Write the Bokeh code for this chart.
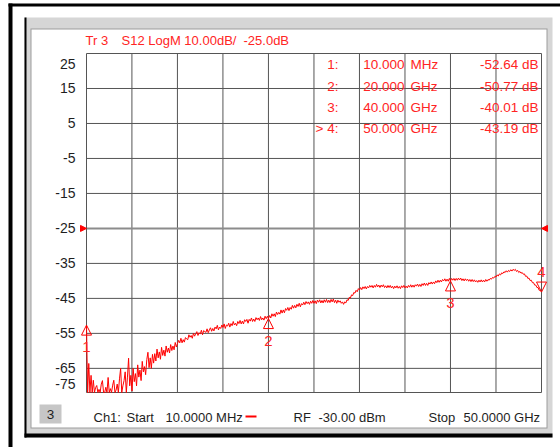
from bokeh.plotting import figure
from bokeh.models import Range1d, Label, BoxAnnotation, Arrow, NormalHead
from bokeh.embed import file_html
from bokeh.resources import INLINE
from bokeh.core.properties import value
import numpy as np

# ---- sweep settings ---------------------------------------------------------
START_GHZ = 0.01
STOP_GHZ = 50.0
REF_DB = -25.0
Y_TOP = 25.0
Y_BOTTOM = -71.9

# ---- S12 trace (dB): first point, then eight sweep points per GHz -----------
s12_db = [
    -52.64,
    -74.0, -63.6, -79.0, -67.0, -77.0, -68.4, -81.0, -70.5,   # 0-1 GHz
    -69.9, -78.0, -71.0, -80.0, -69.5, -68.5, -76.0, -72.5,   # 1-2
    -70.4, -79.0, -67.6, -75.0, -70.8, -82.0, -69.8, -68.4,   # 2-3
    -77.0, -71.2, -69.5, -80.0, -68.0, -65.0, -74.0, -70.0,   # 3-4
    -68.5, -66.0, -72.5, -67.5, -62.1, -70.0, -67.0, -71.5,   # 4-5
    -65.0, -68.8, -66.5, -70.0, -64.0, -67.5, -65.5, -68.5,   # 5-6
    -63.0, -66.0, -64.5, -66.8, -62.5, -60.4, -64.8, -62.0,   # 6-7
    -65.0, -61.0, -63.5, -60.8, -62.9, -59.5, -62.0, -60.3,   # 7-8
    -62.4, -59.0, -61.3, -59.8, -61.5, -58.6, -60.4, -59.2,   # 8-9
    -60.6, -58.2, -59.9, -58.6, -59.7, -57.6, -58.9, -57.9,   # 9-10
    -57.0, -57.7, -56.4, -57.7, -56.8, -57.5, -56.2, -56.6,   # 10-11
    -56.8, -55.4, -56.1, -55.6, -56.4, -55.0, -55.8, -55.1,   # 11-12
    -54.5, -55.6, -54.8, -55.2, -54.1, -55.4, -54.2, -54.5,   # 12-13
    -54.7, -53.7, -54.8, -54.0, -53.4, -54.4, -53.6, -54.3,   # 13-14
    -53.2, -53.7, -52.7, -54.0, -53.2, -53.6, -52.6, -53.3,   # 14-15
    -52.3, -53.6, -52.6, -52.9, -52.1, -53.2, -52.2, -52.8,   # 15-16
    -51.6, -52.6, -52.1, -52.8, -51.6, -52.2, -51.3, -52.3,   # 16-17
    -51.5, -52.3, -51.1, -51.6, -51.0, -52.1, -51.0, -51.5,   # 17-18
    -50.6, -51.6, -50.9, -51.6, -50.5, -51.1, -50.6, -51.3,   # 18-19
    -50.2, -51.1, -50.6, -51.2, -50.1, -50.8, -50.1, -50.77,  # 19-20
    -49.9, -50.6, -49.4, -50.1, -49.4, -50.2, -48.9, -49.6,   # 20-21
    -49.0, -49.5, -48.3, -49.2, -48.3, -49.1, -47.9, -48.4,   # 21-22
    -47.6, -48.5, -47.6, -48.1, -47.0, -47.8, -47.0, -47.7,   # 22-23
    -46.7, -47.3, -46.4, -47.4, -46.5, -46.9, -46.1, -46.8,   # 23-24
    -45.9, -46.5, -46.0, -46.7, -45.8, -46.4, -45.6, -46.4,   # 24-25
    -45.7, -46.5, -45.5, -46.1, -45.4, -46.3, -45.6, -46.3,   # 25-26
    -45.4, -46.1, -45.3, -46.2, -45.5, -46.2, -45.3, -46.0,   # 26-27
    -45.2, -46.2, -45.5, -46.4, -45.5, -46.1, -45.7, -46.4,   # 27-28
    -46.0, -46.7, -46.0, -46.3, -45.4, -45.6, -44.7, -44.9,   # 28-29
    -44.0, -44.2, -43.3, -43.5, -42.7, -43.1, -42.2, -42.6,   # 29-30
    -41.9, -42.5, -41.7, -42.2, -41.6, -42.3, -41.6, -42.0,   # 30-31
    -41.3, -41.8, -41.3, -42.0, -41.3, -41.8, -41.0, -41.7,   # 31-32
    -41.2, -41.9, -41.2, -41.7, -41.1, -41.9, -41.4, -42.0,   # 32-33
    -41.3, -41.9, -41.3, -42.0, -41.5, -42.2, -41.5, -42.0,   # 33-34
    -41.4, -42.1, -41.6, -42.2, -41.4, -41.9, -41.3, -42.0,   # 34-35
    -41.5, -42.0, -41.3, -41.8, -41.1, -41.8, -41.2, -41.8,   # 35-36
    -41.1, -41.5, -40.9, -41.6, -41.0, -41.6, -40.8, -41.3,   # 36-37
    -40.6, -41.3, -40.7, -41.3, -40.5, -40.9, -40.3, -40.9,   # 37-38
    -40.3, -40.8, -40.0, -40.5, -39.8, -40.4, -39.8, -40.3,   # 38-39
    -39.6, -40.0, -39.4, -40.1, -39.5, -40.1, -39.3, -40.01,  # 39-40
    -39.3, -39.8, -39.3, -39.9, -39.3, -39.8, -39.2, -39.7,   # 40-41
    -39.2, -39.9, -39.4, -40.0, -39.4, -39.9, -39.5, -40.1,   # 41-42
    -39.6, -40.2, -39.6, -40.2, -39.7, -40.3, -39.9, -40.4,   # 42-43
    -39.8, -40.3, -39.7, -40.3, -39.8, -40.3, -39.6, -40.1,   # 43-44
    -39.6, -39.8, -39.3, -39.5, -39.0, -39.2, -38.7, -38.9,   # 44-45
    -38.3, -38.6, -38.0, -38.3, -37.7, -37.9, -37.4, -37.6,   # 45-46
    -37.1, -37.5, -37.0, -37.3, -36.8, -37.2, -36.7, -37.0,   # 46-47
    -36.7, -37.3, -37.0, -37.6, -37.3, -37.8, -37.6, -38.1,   # 47-48
    -38.0, -38.7, -38.6, -39.3, -39.2, -39.9, -39.8, -40.5,   # 48-49
    -40.5, -41.2, -41.2, -41.9, -41.9, -42.7, -42.6, -43.19,  # 49-50
]

# ---- markers ----------------------------------------------------------------
marker_ids = ["1", "2", "3", "4"]
marker_ghz = [0.01, 20.0, 40.0, 50.0]
marker_db = [-52.64, -50.77, -40.01, -43.19]
marker_freq_text = ["10.000", "20.000", "40.000", "50.000"]
marker_unit_text = ["MHz", "GHz", "GHz", "GHz"]
active_marker = 3

# ---- graticule --------------------------------------------------------------
y_tick_db = [25, 15, 5, -5, -15, -25, -35, -45, -55, -65, -75]
grid_db = [15, 5, -5, -15, -25, -35, -45, -55, -65]
grid_ghz = [5, 10, 15, 20, 25, 30, 35, 40, 45]

# status-line fields: (text, left edge px, baseline row px)
title_fields = [("Tr 3", 85), ("S12 LogM 10.00dB/", 121), ("-25.0dB", 243)]
footer_fields = [("Ch1:", 93), ("Start", 126), ("10.0000 MHz", 165),
                 ("RF", 293), ("-30.00 dBm", 318), ("Stop", 428), ("50.0000 GHz", 463)]

FONT = "Liberation Sans"
FS = "13.5px"
RED = "#ff0000"
TEXT_RED = "#ff2424"
INK = "#1e1e1e"
GRID = "#555555"

# canvas size and where the graticule sits on it (pixels from top-left)
W, H = 560, 447
GRAT_LEFT, GRAT_RIGHT, GRAT_TOP, GRAT_BOTTOM = 86, 541, 53, 392

# the frame covers the whole canvas, so the ranges extend past the graticule
px_per_ghz = (GRAT_RIGHT - GRAT_LEFT) / (STOP_GHZ - START_GHZ)
px_per_db = (GRAT_BOTTOM - GRAT_TOP) / (Y_TOP - Y_BOTTOM)
x_range = Range1d(START_GHZ - GRAT_LEFT / px_per_ghz, STOP_GHZ + (W - GRAT_RIGHT) / px_per_ghz)
y_range = Range1d(Y_BOTTOM - (H - GRAT_BOTTOM) / px_per_db, Y_TOP + GRAT_TOP / px_per_db)

p = figure(width=W, height=H, output_backend="svg", toolbar_location=None,
           x_range=x_range, y_range=y_range, x_axis_location=None, y_axis_location=None,
           min_border=0)
p.background_fill_color = "white"
p.border_fill_color = "white"
p.outline_line_color = None
p.grid.visible = False


def sx(px):
    return px


def sy(py):
    return H - py


def box(l, t, r, b, color, level="image"):
    p.add_layout(BoxAnnotation(left=sx(l), right=sx(r), top=sy(t), bottom=sy(b),
                               left_units="screen", right_units="screen",
                               top_units="screen", bottom_units="screen",
                               fill_color=color, fill_alpha=1.0, line_color=None,
                               level=level))


# instrument window chrome
box(8, 3, 12, 447, "black")
box(8, 3, 560, 6, "black")
box(24, 17, 552, 437, "#d6d6d6")
box(24, 17, 26, 437, "black")
box(24, 433, 552, 437, "black")
box(30, 28, 547, 428, "#9c9c9c")
box(31, 29, 546, 427, "white")
box(39, 404, 61, 423, "#c6c6c6")
box(245, 415, 256, 417, RED, level="annotation")

# graticule
n_v = len(grid_ghz)
p.segment(x0=grid_ghz, y0=[Y_BOTTOM] * n_v, x1=grid_ghz, y1=[Y_TOP] * n_v,
          line_color=GRID, line_width=1)
n_h = len(grid_db)
p.segment(x0=[START_GHZ] * n_h, y0=grid_db, x1=[STOP_GHZ] * n_h, y1=grid_db,
          line_color=[("#8c8c8c" if d == REF_DB else GRID) for d in grid_db],
          line_width=[(2 if d == REF_DB else 1) for d in grid_db])
p.quad(left=START_GHZ, right=STOP_GHZ, bottom=Y_BOTTOM, top=Y_TOP,
       fill_color=None, line_color=GRID, line_width=1)

# y labels: the end labels are pulled inside the graticule
label_pos = [min(max(v, Y_BOTTOM + 2.5), Y_TOP - 2.9) for v in y_tick_db]
p.text(x=[START_GHZ] * len(label_pos), y=label_pos, text=[str(v) for v in y_tick_db],
       x_offset=-11, text_align="right", text_baseline="middle",
       text_font=value(FONT), text_font_size="14px", text_color=INK)


def text(px, py, s, color=INK, align="left", size=FS):
    p.add_layout(Label(x=sx(px), y=sy(py), x_units="screen", y_units="screen",
                       text=s, text_font=FONT, text_font_size=size,
                       text_color=color, text_align=align, text_baseline="middle"))


for s, x in title_fields:
    text(x, 40, s, TEXT_RED, size="13px")
for s, x in footer_fields:
    text(x, 417, s, size="13px")
text(50, 414, "3", align="center")

# marker readout table
row_y = [64, 86, 107, 128]
for i, ry in enumerate(row_y):
    prefix = "> " if i == active_marker else ""
    text(338, ry, f"{prefix}{marker_ids[i]}:", TEXT_RED, align="right")
    text(404, ry, marker_freq_text[i], TEXT_RED, align="right")
    text(410, ry, marker_unit_text[i], TEXT_RED)
    text(538, ry, f"{marker_db[i]:.2f} dB", TEXT_RED, align="right")

# trace, limited to the display window like the instrument does
freq_ghz = np.linspace(START_GHZ, STOP_GHZ, len(s12_db))
shown_db = np.clip(np.array(s12_db), Y_BOTTOM, Y_TOP)
p.line(freq_ghz, shown_db, line_color=RED, line_width=1)

# marker symbols: open triangles whose tip sits on the marker value
for i, (f, d) in enumerate(zip(marker_ghz, marker_db)):
    up = i != active_marker
    p.add_layout(Arrow(x_start=f, y_start=d - 1.0 if up else d + 1.0, x_end=f, y_end=d,
                       line_alpha=0.0,
                       end=NormalHead(size=10, fill_color=None, line_color=RED,
                                      line_width=1)))
p.text(marker_ghz, marker_db, text=marker_ids, y_offset=[22, 22, 22, -20],
       text_align="center", text_baseline="middle", text_font=value(FONT),
       text_font_size="15px", text_color=TEXT_RED)

# reference-level pointers on both sides
for x0, x1 in ((START_GHZ - 1.0, START_GHZ), (STOP_GHZ + 1.0, STOP_GHZ)):
    p.add_layout(Arrow(x_start=x0, y_start=REF_DB, x_end=x1, y_end=REF_DB,
                       line_alpha=0.0,
                       end=NormalHead(size=6, fill_color=RED, line_color=RED,
                                      line_width=1)))

open("out.html", "w").write(file_html(p, INLINE))
